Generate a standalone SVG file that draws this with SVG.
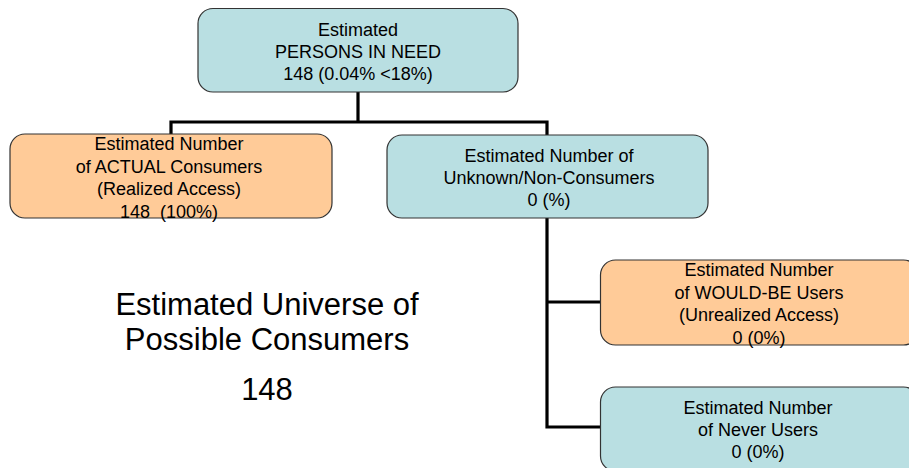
<svg xmlns="http://www.w3.org/2000/svg" width="909" height="468" viewBox="0 0 909 468">
<style>
.box{stroke:#333;stroke-width:1.2}
.blue{fill:#B9DFE2}
.orange{fill:#FFCB98}
.t{font-family:"Liberation Sans",Arial,sans-serif;font-size:18px;fill:#000;text-anchor:middle}
.big{font-family:"Liberation Sans",Arial,sans-serif;font-size:31px;fill:#000;text-anchor:middle}
.conn{fill:none;stroke:#000;stroke-width:3.2}
</style>
<rect width="909" height="468" fill="#fff"/>
<g id="connectors">
<path class="conn" d="M358,92 V122 M171,134 V122 H547 V135"/>
<path class="conn" d="M547,218 V427 H601 M547,302 H601"/>
</g>
<g id="persons-in-need">
<rect class="box blue" x="198" y="8.5" width="320" height="83.5" rx="15"/>
<text class="t" x="358" y="36">Estimated</text>
<text class="t" x="358" y="58">PERSONS IN NEED</text>
<text class="t" x="358" y="80">148 (0.04% &lt;18%)</text>
</g>
<g id="actual-consumers">
<rect class="box orange" x="10" y="134" width="322" height="84" rx="15"/>
<text class="t" x="169" y="150">Estimated Number</text>
<text class="t" x="169" y="172.5">of ACTUAL Consumers</text>
<text class="t" x="169" y="195">(Realized Access)</text>
<text class="t" x="169" y="217.5" xml:space="preserve">148  (100%)</text>
</g>
<g id="unknown-non-consumers">
<rect class="box blue" x="387" y="135" width="321" height="83" rx="15"/>
<text class="t" x="549" y="161.5">Estimated Number of</text>
<text class="t" x="549" y="183.5">Unknown/Non-Consumers</text>
<text class="t" x="549" y="206">0 (%)</text>
</g>
<g id="would-be-users">
<rect class="box orange" x="600.5" y="260" width="318" height="85" rx="15"/>
<text class="t" x="759" y="276">Estimated Number</text>
<text class="t" x="759" y="298.5">of WOULD-BE Users</text>
<text class="t" x="759" y="321">(Unrealized Access)</text>
<text class="t" x="759" y="343.5">0 (0%)</text>
</g>
<g id="never-users">
<rect class="box blue" x="600.5" y="387" width="318" height="84" rx="15"/>
<text class="t" x="758" y="413.5">Estimated Number</text>
<text class="t" x="758" y="435.5">of Never Users</text>
<text class="t" x="758" y="457.5">0 (0%)</text>
</g>
<g id="universe-label">
<text class="big" x="267" y="315">Estimated Universe of</text>
<text class="big" x="267" y="350">Possible Consumers</text>
<text class="big" x="267" y="400">148</text>
</g>
</svg>
